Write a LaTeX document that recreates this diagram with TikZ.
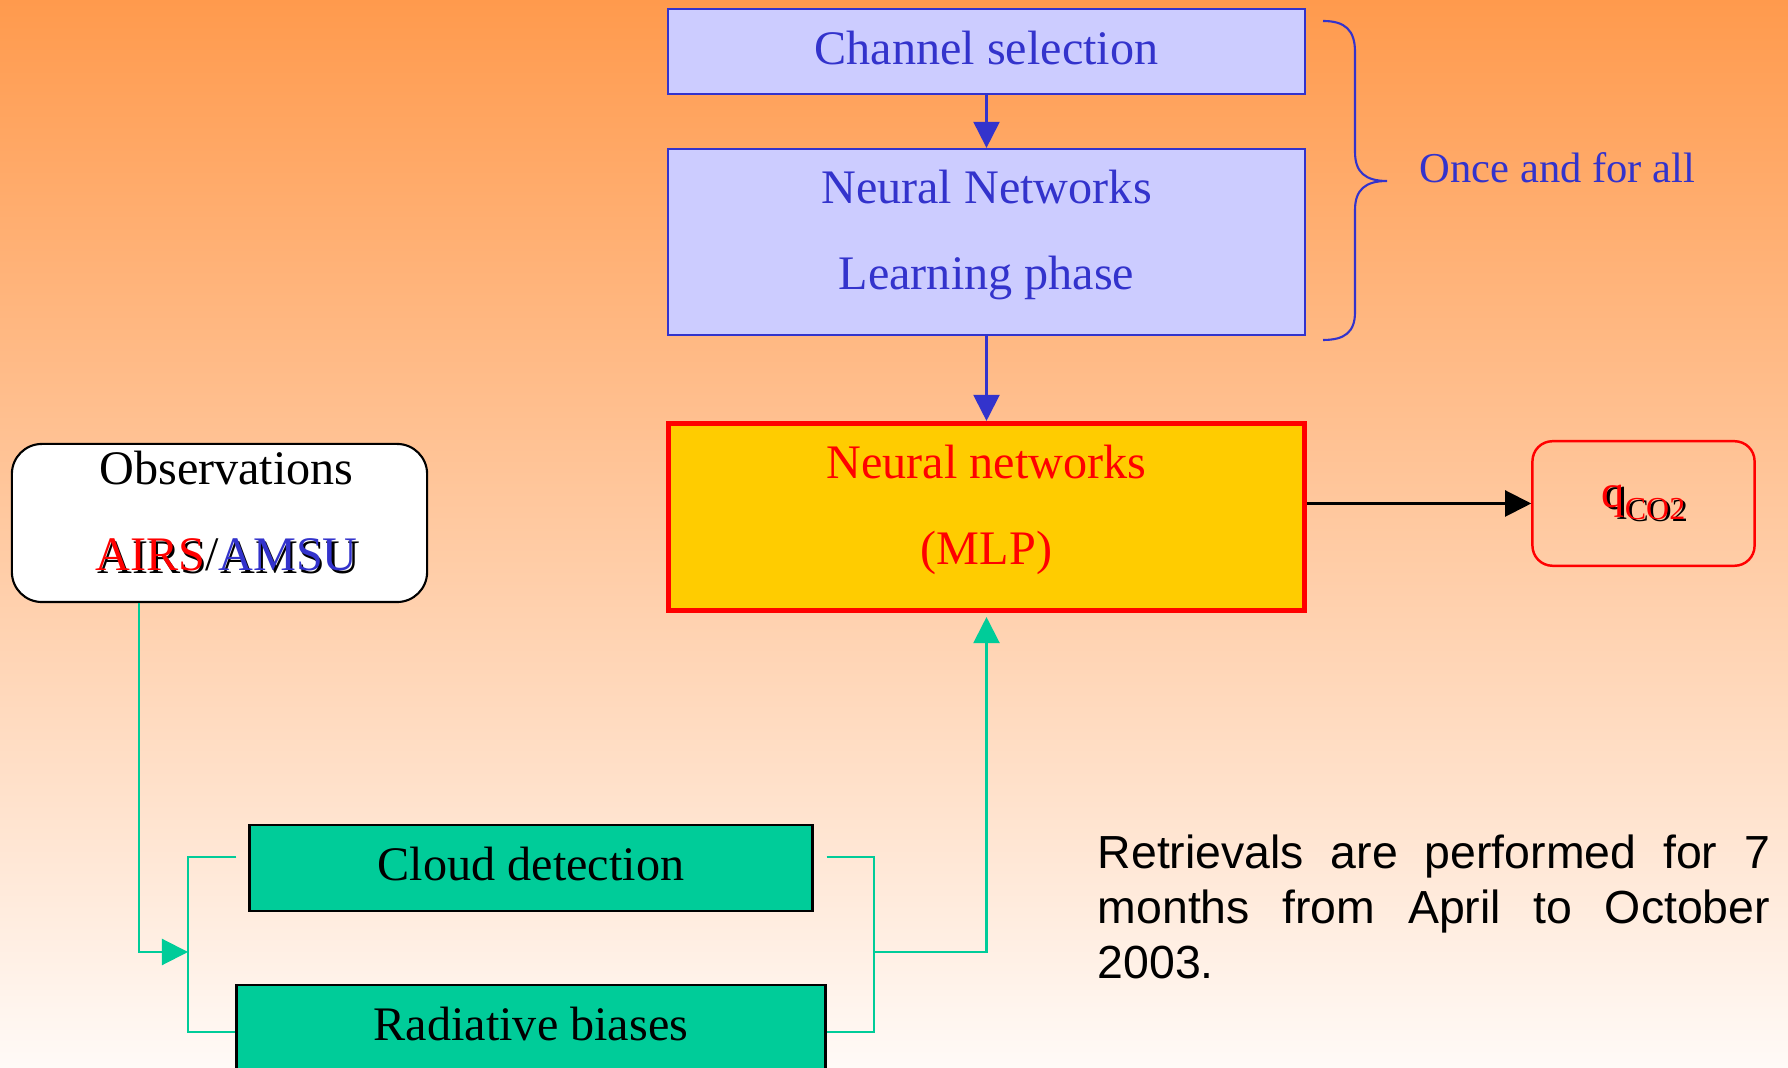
\documentclass[tikz,border=0pt]{standalone}
\usepackage{fontspec}
\setmainfont{Liberation Serif}
\newfontfamily\arialfont{Liberation Sans}
\usetikzlibrary{arrows.meta}

\definecolor{bgtop}{RGB}{255,154,77}
\definecolor{bgbot}{RGB}{255,250,247}
\definecolor{navy}{RGB}{51,51,204}
\definecolor{lilac}{RGB}{204,204,255}
\definecolor{jade}{RGB}{0,204,153}
\definecolor{gold}{RGB}{255,204,0}

\newcommand{\shadowed}[2]{\makebox[0pt][l]{\hspace{0.7pt}\raisebox{-0.7pt}{\color{black}#2}}\textcolor{#1}{#2}}
\newcommand{\lowstrut}{\rule[-0.5em]{0pt}{0pt}}

\begin{document}
\begin{tikzpicture}[x=0.01cm,y=-0.01cm,
    bigfont/.style={font=\fontsize{13.7}{24.5}\selectfont},
    learnbox/.style={draw=navy,fill=lilac,line width=0.6pt,text=navy,bigfont,align=center,inner sep=0pt,minimum width=6.37cm},
    greenbox/.style={draw=black,fill=jade,line width=0.8pt,bigfont,inner sep=0pt,text depth=0.08cm},
    link/.style={jade,line width=0.6pt},
    headed/.style={-{Triangle[length=0.26cm,width=0.26cm]}}]

    % background
    \useasboundingbox (0,0) rectangle (1788,1068);
    \shade[top color=bgtop,bottom color=bgbot] (0,0) rectangle (1788,1068);

    % done once
    \node[learnbox,minimum height=0.85cm,text depth=0.08cm] (chan) at (986.5,51.5) {Channel selection};
    \node[learnbox,minimum height=1.86cm] (learn) at (986.5,242) {Neural Networks\\Learning phase\lowstrut};
    \draw[navy,line width=0.6pt,headed] (chan) -- (learn);

    % brace
    \draw[navy,line width=0.6pt] (1323,21) .. controls (1345,21) and (1355,30) .. (1355,52) -- (1355,152)
        .. controls (1355,172) and (1365,181) .. (1387,181) .. controls (1365,181) and (1355,190) .. (1355,210)
        -- (1355,312) .. controls (1355,332) and (1345,340) .. (1323,340);
    \node[navy,anchor=base west,inner sep=0pt,font=\fontsize{12.1}{14}\selectfont] (once) at (1419,183) {Once and for all};

    % network
    \node[draw=red,fill=gold,line width=1.42pt,text=red,bigfont,align=center,inner sep=0pt,
        minimum width=6.36cm,minimum height=1.87cm] (mlp) at (986.5,517) {Neural networks\\(MLP)\lowstrut};
    \draw[navy,line width=0.6pt,headed] (learn) -- (mlp);

    % output
    \node[draw=red,line width=0.7pt,rounded corners=0.2cm,inner sep=0pt,minimum width=2.22cm,minimum height=1.245cm,
        font=\fontsize{13.2}{15}\selectfont] (qco2) at (1643.5,503.5)
        {\shadowed{red}{q\raisebox{-0.12cm}{\fontsize{9.1}{10}\selectfont CO2}}};
    \draw[line width=0.6pt,headed] (mlp.east |- qco2.west) -- (qco2.west);

    % observations
    \node[draw=black,fill=white,line width=0.6pt,rounded corners=0.3cm,bigfont,align=center,inner sep=0pt,
        minimum width=4.15cm,minimum height=1.58cm] (obs) at (219.5,523)
        {\hspace*{0.14cm}Observations\\\hspace*{0.14cm}\shadowed{red}{AIRS}/\shadowed{navy}{AMSU}\lowstrut};

    % preprocessing
    \node[greenbox,minimum width=5.62cm,minimum height=0.86cm] (cloud) at (531,868) {Cloud detection};
    \node[greenbox,minimum width=5.88cm,minimum height=0.86cm] (rad) at (531,1028) {Radiative biases};
    \coordinate (inleft) at (188,952);
    \coordinate (inright) at (874,952);
    \draw[link,headed] ([xshift=1.28cm]obs.south west) |- (inleft);
    \draw[link] ([xshift=-0.12cm,yshift=0.11cm]cloud.west) -| (inleft) |- ([yshift=-0.04cm]rad.west);
    \draw[link] ([xshift=0.13cm,yshift=0.11cm]cloud.east) -| (inright) |- ([yshift=-0.04cm]rad.east);
    \draw[link,headed,shorten >=0.04cm] (inright) -| (mlp.south);

    % note
    \node[anchor=base west,inner sep=0pt,text width=6.72cm,align=justify,font=\arialfont\fontsize{13.2}{15.6}\selectfont] (note) at (1097,869)
        {\spaceskip=0.278em plus 0.5em\tolerance=10000\hyphenpenalty=10000 Retrievals are performed for 7 months from April to October 2003.};

\end{tikzpicture}
\end{document}
